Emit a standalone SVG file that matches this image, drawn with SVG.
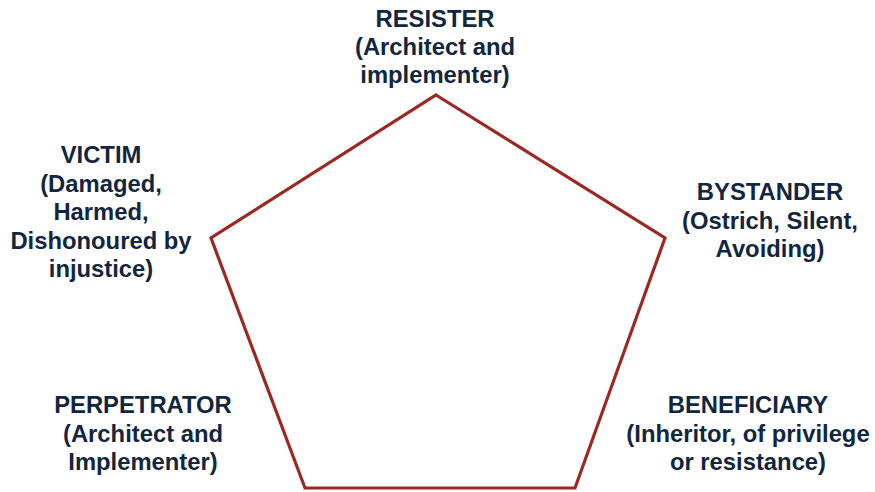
<svg xmlns="http://www.w3.org/2000/svg" width="875" height="492" viewBox="0 0 875 492">
  <style>
    .lbl { font-family: "Liberation Sans", Arial, sans-serif; font-weight: bold; font-size: 23.8px; fill: #122640; text-anchor: middle; }
    .edge { fill: none; stroke: #9b2822; stroke-width: 3.2; stroke-linejoin: miter; }
  </style>
  <rect width="875" height="492" fill="#ffffff"/>
  <g id="connectors">
    <polygon class="edge" points="436,95 665,238 575,488 305,488 211,238"/>
  </g>
  <g id="resister">
    <text class="lbl" x="435" y="27">RESISTER</text>
    <text class="lbl" x="435" y="55">(Architect and</text>
    <text class="lbl" x="435" y="83">implementer)</text>
  </g>
  <g id="victim">
    <text class="lbl" x="101" y="163">VICTIM</text>
    <text class="lbl" x="101" y="192">(Damaged,</text>
    <text class="lbl" x="101" y="220">Harmed,</text>
    <text class="lbl" x="101" y="249">Dishonoured by</text>
    <text class="lbl" x="101" y="277">injustice)</text>
  </g>
  <g id="bystander">
    <text class="lbl" x="770" y="200">BYSTANDER</text>
    <text class="lbl" x="770" y="229">(Ostrich, Silent,</text>
    <text class="lbl" x="770" y="257">Avoiding)</text>
  </g>
  <g id="perpetrator">
    <text class="lbl" x="143" y="413">PERPETRATOR</text>
    <text class="lbl" x="143" y="442">(Architect and</text>
    <text class="lbl" x="143" y="470">Implementer)</text>
  </g>
  <g id="beneficiary">
    <text class="lbl" x="748" y="413">BENEFICIARY</text>
    <text class="lbl" x="748" y="442">(Inheritor, of privilege</text>
    <text class="lbl" x="748" y="470">or resistance)</text>
  </g>
</svg>
